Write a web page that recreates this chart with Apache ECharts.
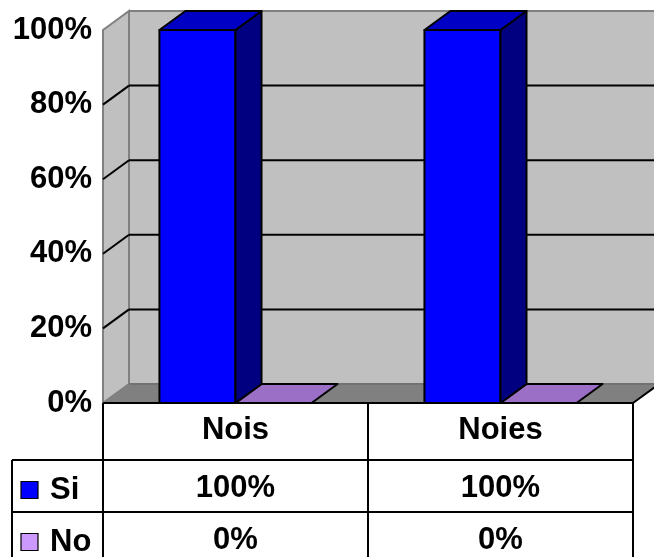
<!DOCTYPE html>
<html>
<head>
<meta charset="utf-8">
<script src="https://cdn.jsdelivr.net/npm/echarts@6/dist/echarts.min.js"></script>
<style>
  html, body { margin: 0; padding: 0; background: #ffffff; }
  #chart { width: 654px; height: 557px; }
</style>
</head>
<body>
<div id="chart"></div>
<script>
// Survey answers by group, as shares of respondents
const categories = ['Nois', 'Noies'];
const seriesNames = ['Si', 'No'];
const siValues = [1, 1];
const noValues = [0, 0];
const yTicks = [0, 0.2, 0.4, 0.6, 0.8, 1];

// 3D look: depth offset of the back plane relative to the front plane
const DX = 26, DY = 19;
const BAR_RATIO = 0.287;
const FONT = 'Arial, "Liberation Sans", sans-serif';
const FS = 31;

const faceColors = {
  Si: { front: '#0000FF', top: '#0000C4', side: '#000080', key: '#0000FF' },
  No: { front: '#CC99FF', top: '#9C6FC6', side: '#6A4A8E', key: '#CC99FF' }
};

// vertical centres of the data table rows
const ROW_Y = { Si: 488, No: 540 };

const pct = v => Math.round(v * 100) + '%';

const chart = echarts.init(document.getElementById('chart'), null, { renderer: 'canvas' });

function renderWalls(params, api) {
  const cs = params.coordSys;
  const x0 = cs.x, x1 = cs.x + cs.width;
  const yb = api.coord([0, 0])[1];
  const yt = api.coord([0, 1])[1];
  const children = [];
  // back wall
  children.push({
    type: 'polygon',
    shape: { points: [[x0 + DX, yt - DY], [x1 + DX, yt - DY], [x1 + DX, yb - DY], [x0 + DX, yb - DY]] },
    style: { fill: '#C0C0C0', stroke: '#808080', lineWidth: 2 }
  });
  // side wall
  children.push({
    type: 'polygon',
    shape: { points: [[x0, yt], [x0 + DX, yt - DY], [x0 + DX, yb - DY], [x0, yb]] },
    style: { fill: '#C0C0C0', stroke: '#808080', lineWidth: 2 }
  });
  // gridlines on back and side walls
  yTicks.forEach(t => {
    if (t === 0 || t === 1) return;
    const y = api.coord([0, t])[1];
    children.push({
      type: 'line',
      shape: { x1: x0 + DX, y1: y - DY, x2: x1 + DX, y2: y - DY },
      style: { stroke: '#000', lineWidth: 2 }
    });
    children.push({
      type: 'line',
      shape: { x1: x0, y1: y, x2: x0 + DX, y2: y - DY },
      style: { stroke: '#000', lineWidth: 2 }
    });
  });
  // floor
  children.push({
    type: 'polygon',
    shape: { points: [[x0, yb], [x0 + DX, yb - DY], [x1 + DX, yb - DY], [x1, yb]] },
    style: { fill: '#808080', stroke: null }
  });
  children.push({
    type: 'line',
    shape: { x1: x0 + DX, y1: yb - DY, x2: x1 + DX, y2: yb - DY },
    style: { stroke: '#6E6E6E', lineWidth: 1.5 }
  });
  children.push({
    type: 'line',
    shape: { x1: x1, y1: yb, x2: x1 + DX, y2: yb - DY },
    style: { stroke: '#000', lineWidth: 2 }
  });
  children.push({
    type: 'line',
    shape: { x1: x0, y1: yb, x2: x0 + DX, y2: yb - DY },
    style: { stroke: '#808080', lineWidth: 1.5 }
  });
  return { type: 'group', children };
}

function makeBoxRenderer(name, side) {
  const col = faceColors[name];
  return function (params, api) {
    const idx = api.value(0);
    const val = api.value(1);
    const top = api.coord([idx, val]);
    const base = api.coord([idx, 0]);
    const band = api.size([1, 0])[0];
    const w = band * BAR_RATIO;
    const l = side < 0 ? base[0] - w : base[0];
    const r = l + w;
    const yt = top[1], yb = base[1];
    const stroke = { stroke: '#000', lineWidth: 2, lineJoin: 'round' };
    const children = [];
    if (yb - yt > 0.5) {
      children.push({
        type: 'polygon',
        shape: { points: [[l, yt], [r, yt], [r, yb], [l, yb]] },
        style: Object.assign({ fill: col.front }, stroke)
      });
      children.push({
        type: 'polygon',
        shape: { points: [[r, yt], [r + DX, yt - DY], [r + DX, yb - DY], [r, yb]] },
        style: Object.assign({ fill: col.side }, stroke)
      });
    }
    children.push({
      type: 'polygon',
      shape: { points: [[l, yt], [l + DX, yt - DY], [r + DX, yt - DY], [r, yt]] },
      style: Object.assign({ fill: col.top }, stroke)
    });
    // value cell in the data table
    children.push({
      type: 'text',
      style: {
        text: pct(val), x: base[0], y: ROW_Y[name],
        fill: '#000', fontSize: FS, fontWeight: 'bold', fontFamily: FONT,
        align: 'center', verticalAlign: 'middle'
      }
    });
    return { type: 'group', children };
  };
}

// data table frame and legend keys
const tableLines = [
  [103, 403, 633, 403],
  [12, 460, 633, 460],
  [12, 512, 633, 512],
  [12, 460, 12, 557],
  [103, 403, 103, 557],
  [368, 403, 368, 557],
  [633, 403, 633, 557]
];
const graphic = tableLines.map(p => ({
  type: 'line',
  shape: { x1: p[0], y1: p[1], x2: p[2], y2: p[3] },
  style: { stroke: '#000', lineWidth: 2 },
  z: 10
}));
seriesNames.forEach(n => {
  const cy = ROW_Y[n] + 2;
  graphic.push({
    type: 'rect',
    shape: { x: 21, y: cy - 8.5, width: 17, height: 17 },
    style: { fill: faceColors[n].key, stroke: '#000', lineWidth: 1.2 },
    z: 10
  });
  graphic.push({
    type: 'text',
    style: {
      text: n, x: 50, y: cy,
      fill: '#000', fontSize: FS, fontWeight: 'bold', fontFamily: FONT,
      align: 'left', verticalAlign: 'middle'
    },
    z: 10
  });
});

const option = {
  backgroundColor: '#ffffff',
  animation: false,
  grid: { left: 103, right: 21, top: 30, bottom: 154, outerBoundsMode: 'none' },
  xAxis: {
    type: 'category',
    data: categories,
    axisLine: { show: false },
    axisTick: { show: false },
    splitLine: { show: false },
    axisLabel: {
      margin: 12, color: '#000', fontSize: FS, fontWeight: 'bold', fontFamily: FONT,
      interval: 0
    }
  },
  yAxis: {
    type: 'value',
    min: 0, max: 1, interval: 0.2,
    axisLine: { show: false },
    axisTick: { show: false },
    splitLine: { show: false },
    axisLabel: {
      margin: 11, color: '#000', fontSize: FS, fontWeight: 'bold', fontFamily: FONT,
      padding: [5, 0, 0, 0],
      formatter: pct
    }
  },
  graphic: graphic,
  series: [
    {
      type: 'custom', name: 'walls', z: 1, silent: true,
      data: [[0, 0]],
      renderItem: renderWalls
    },
    {
      type: 'custom', name: 'Si', z: 3,
      data: siValues.map((v, i) => [i, v]),
      renderItem: makeBoxRenderer('Si', -1)
    },
    {
      type: 'custom', name: 'No', z: 2,
      data: noValues.map((v, i) => [i, v]),
      renderItem: makeBoxRenderer('No', 1)
    }
  ]
};

chart.setOption(option);
</script>
</body>
</html>
